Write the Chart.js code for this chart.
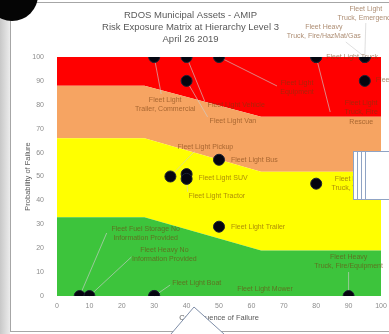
<!DOCTYPE html>
<html>
<head>
<meta charset="utf-8">
<script src="https://cdn.jsdelivr.net/npm/chart.js@4/dist/chart.umd.min.js"></script>
<style>
  html, body { margin: 0; padding: 0; background: #ffffff; }
  #wrap { width: 389px; height: 334px; position: relative; }
</style>
</head>
<body>
<div id="wrap"><canvas id="riskChart" width="389" height="334"></canvas></div>
<script>
// Risk exposure matrix: consequence (x) vs probability (y) of each asset group
const titleLines = ['RDOS Municipal Assets - AMIP', 'Risk Exposure Matrix at Hierarchy Level 3', 'April 26 2019'];
const axisTicks = [0, 10, 20, 30, 40, 50, 60, 70, 80, 90, 100];

const consequence = [30, 40, 40, 50, 80, 80, 95, 95, 95, 50, 35, 40, 40, 80, 50, 7, 10, 30, 30, 90];
const probability = [100, 100, 90, 100, 100, 100, 100, 100, 90, 57, 50, 51, 49, 47, 29, 0, 0, 0, 0, 0];
const assetNames = [
  ['Fleet Light', 'Trailer, Commercial'],
  ['Fleet Light Vehicle'],
  ['Fleet Light Van'],
  ['Fleet Light', 'Equipment'],
  ['Fleet Light Truck'],
  ['Fleet Light', 'Truck, Fire', 'Rescue'],
  ['Fleet Light', 'Truck, Emergency'],
  ['Fleet Heavy', 'Truck, Fire/HazMat/Gas'],
  ['Fleet Light Truck'],
  ['Fleet Light Bus'],
  ['Fleet Light Pickup'],
  ['Fleet Light SUV'],
  ['Fleet Light Tractor'],
  ['Fleet Light', 'Truck, Water'],
  ['Fleet Light Trailer'],
  ['Fleet Fuel Storage No', 'Information Provided'],
  ['Fleet Heavy No', 'Information Provided'],
  ['Fleet Light Boat'],
  ['Fleet Light Mower'],
  ['Fleet Heavy', 'Truck, Fire/Equipment']
];

// Risk zone boundaries (upper edge of each zone)
const bandX = [0, 27, 63, 100];
const greenTop = [33, 33, 19, 19];
const yellowTop = [66, 66, 52, 52];
const orangeTop = [88, 88, 75, 75];
const redTop = [100, 100, 100, 100];

// Label placement relative to each marker (pixels): text offset, alignment, leader end
const labelPlacement = [
  { dx: 11, dy: 43, align: 'center', lead: [7, 37] },
  { dx: 21, dy: 48, align: 'left', lead: [18, 44] },
  { dx: 23, dy: 40, align: 'left', lead: [21, 36] },
  { dx: 78, dy: 26, align: 'center', lead: [58, 29] },
  { dx: 10, dy: 0, align: 'left' },
  { dx: 45, dy: 46, align: 'center', lead: [14, 55] },
  { dx: 1, dy: -48, align: 'center', lead: [1, -34] },
  { dx: -41, dy: -30, align: 'center', lead: [-19, -15] },
  { dx: 11, dy: -1, align: 'left' },
  { dx: 12, dy: 0, align: 'left' },
  { dx: 35, dy: -29, align: 'center', lead: [24, -25] },
  { dx: 12, dy: 4, align: 'left' },
  { dx: 2, dy: 17, align: 'left', lead: [1, 13] },
  { dx: 35, dy: -5, align: 'center' },
  { dx: 12, dy: 0, align: 'left' },
  { dx: 66, dy: -67, align: 'center', lead: [27, -63] },
  { dx: 75, dy: -46, align: 'center', lead: [42, -39] },
  { dx: 18, dy: -13, align: 'left', lead: [16, -11] },
  { dx: 83, dy: -7, align: 'left' },
  { dx: 0, dy: -39, align: 'center', lead: [0, -24] }
];

const toPoints = (xs, ys) => xs.map((x, i) => ({ x: x, y: ys[i] }));
const FONT = "'Liberation Sans', Arial, sans-serif";
const MARKERS = 4;

function band(values, color, fill) {
  return {
    type: 'line',
    order: 1,
    data: toPoints(bandX, values),
    backgroundColor: color,
    borderWidth: 0,
    pointRadius: 0,
    tension: 0,
    fill: fill
  };
}

// Asset labels with leader lines, drawn above the zones and below the markers
const assetLabelPlugin = {
  id: 'assetLabels',
  beforeDatasetDraw(chart, args) {
    if (args.index !== MARKERS) return;
    const ctx = chart.ctx;
    const meta = chart.getDatasetMeta(MARKERS);
    ctx.save();
    ctx.font = '7px ' + FONT;
    ctx.textBaseline = 'middle';
    meta.data.forEach((pt, i) => {
      const p = labelPlacement[i];
      if (p.lead) {
        ctx.strokeStyle = 'rgba(205,205,205,0.8)';
        ctx.lineWidth = 0.8;
        ctx.beginPath();
        ctx.moveTo(pt.x, pt.y);
        ctx.lineTo(pt.x + p.lead[0], pt.y + p.lead[1]);
        ctx.stroke();
      }
      ctx.fillStyle = 'rgba(115,60,15,0.6)';
      ctx.textAlign = p.align;
      assetNames[i].forEach((line, k) => {
        ctx.fillText(line, pt.x + p.dx, pt.y + p.dy + k * 9.5);
      });
    });
    ctx.restore();
  }
};

// Surrounding slide elements
const slideFramePlugin = {
  id: 'slideFrame',
  beforeDraw(chart) {
    const ctx = chart.ctx;
    ctx.save();
    ctx.fillStyle = '#ffffff';
    ctx.fillRect(0, 0, 389, 334);
    ctx.restore();
  },
  afterDraw(chart) {
    const ctx = chart.ctx;
    ctx.save();
    // left edge shading and frame
    const g = ctx.createLinearGradient(0, 0, 10, 0);
    g.addColorStop(0, '#c8c8c8');
    g.addColorStop(1, '#ececec');
    ctx.fillStyle = g;
    ctx.fillRect(0, 0, 10, 334);
    ctx.strokeStyle = '#a6a6a6';
    ctx.lineWidth = 1;
    ctx.beginPath();
    ctx.moveTo(10.5, 0); ctx.lineTo(10.5, 331);
    ctx.moveTo(10, 331.5); ctx.lineTo(389, 331.5);
    ctx.moveTo(20, 2.5); ctx.lineTo(389, 2.5);
    ctx.stroke();
    // dark corner disc
    ctx.fillStyle = '#050505';
    ctx.beginPath();
    ctx.arc(12, -5, 26, 0, Math.PI * 2);
    ctx.fill();
    // pointer shape at the bottom
    ctx.fillStyle = '#ffffff';
    ctx.strokeStyle = '#7f8ea8';
    ctx.beginPath();
    ctx.moveTo(171, 334); ctx.lineTo(194, 307); ctx.lineTo(224, 334);
    ctx.closePath();
    ctx.fill();
    ctx.beginPath();
    ctx.moveTo(171, 334); ctx.lineTo(194, 307); ctx.lineTo(224, 334);
    ctx.stroke();
    // overlapping panel on the right
    ctx.fillStyle = '#ffffff';
    ctx.fillRect(353, 151, 36, 49);
    ctx.strokeStyle = '#8fa3c4';
    ctx.lineWidth = 1;
    [353.5, 357.5, 361.5, 365.5].forEach(x => {
      ctx.beginPath(); ctx.moveTo(x, 151); ctx.lineTo(x, 200); ctx.stroke();
    });
    ctx.strokeRect(365.5, 151.5, 30, 48);
    ctx.beginPath();
    ctx.moveTo(353, 151.5); ctx.lineTo(389, 151.5);
    ctx.moveTo(353, 199.5); ctx.lineTo(389, 199.5);
    ctx.stroke();
    ctx.restore();
  }
};

new Chart(document.getElementById('riskChart'), {
  type: 'scatter',
  data: {
    datasets: [
      band(greenTop, '#3dc43c', 'origin'),
      band(yellowTop, '#ffff00', '-1'),
      band(orangeTop, '#f6a462', '-1'),
      band(redTop, '#ff0000', '-1'),
      {
        type: 'scatter',
        order: 0,
        data: toPoints(consequence, probability),
        backgroundColor: '#05050f',
        borderColor: '#1c2233',
        borderWidth: 1,
        pointRadius: 5.5,
        pointHoverRadius: 5.5
      }
    ]
  },
  options: {
    responsive: false,
    animation: false,
    devicePixelRatio: 1,
    layout: { padding: { left: 0, right: 8, top: 0, bottom: 8 }, autoPadding: false },
    plugins: {
      legend: { display: false },
      tooltip: { enabled: false },
      title: {
        display: true,
        text: titleLines,
        color: '#595959',
        font: { family: FONT, size: 9.5, weight: 'normal', lineHeight: 1.263 },
        padding: { top: 9, bottom: 12 }
      }
    },
    scales: {
      x: {
        type: 'linear',
        min: 0, max: 100,
        afterBuildTicks: s => { s.ticks = axisTicks.map(v => ({ value: v })); },
        afterFit: s => { s.height = 30; s.paddingRight = 0; s.paddingLeft = 0; },
        grid: { display: false, drawTicks: false },
        border: { display: false },
        ticks: { color: '#8c8c8c', padding: 6, font: { family: FONT, size: 7 } },
        title: {
          display: true,
          text: 'Consequence of Failure',
          color: '#595959',
          font: { family: FONT, size: 7.5 },
          padding: { top: 0, bottom: 4 }
        }
      },
      y: {
        type: 'linear',
        min: 0, max: 100,
        afterBuildTicks: s => { s.ticks = axisTicks.map(v => ({ value: v })); },
        afterFit: s => { s.width = 57; },
        grid: { display: false, drawTicks: false },
        border: { display: false },
        ticks: { color: '#8c8c8c', padding: 13, font: { family: FONT, size: 7 } },
        title: {
          display: true,
          text: 'Probability of Failure',
          color: '#595959',
          font: { family: FONT, size: 7.5 },
          padding: { top: 23, bottom: 0 }
        }
      }
    }
  },
  plugins: [assetLabelPlugin, slideFramePlugin]
});
</script>
</body>
</html>
